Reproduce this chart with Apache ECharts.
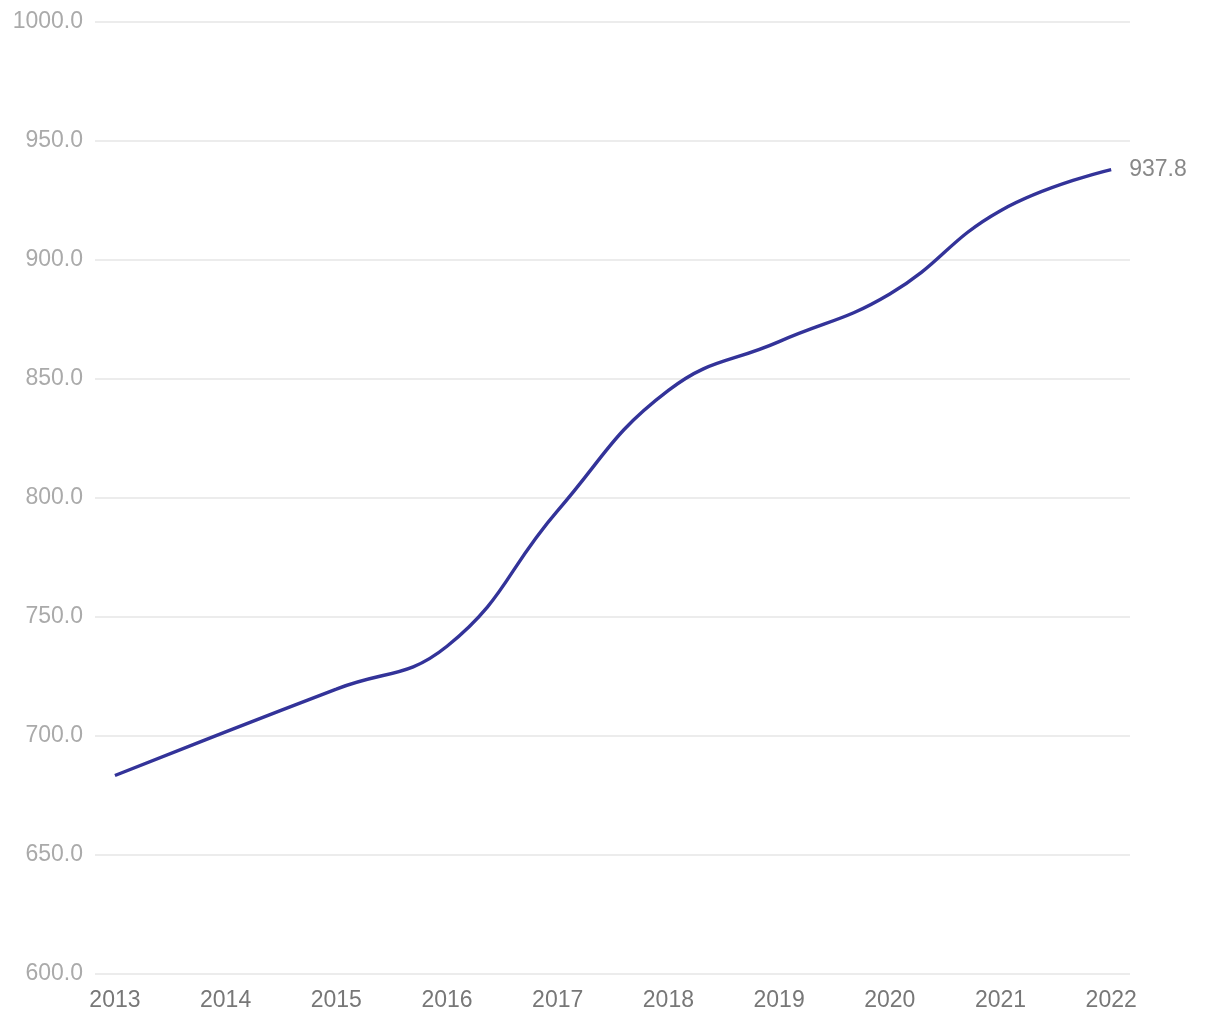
<!DOCTYPE html>
<html>
<head>
<meta charset="utf-8">
<script src="https://cdn.jsdelivr.net/npm/echarts@6/dist/echarts.min.js"></script>
<style>html,body{margin:0;padding:0;background:#fff}#c{width:1220px;height:1020px}</style>
</head>
<body>
<div id="c"></div>
<script>
const years = [2013, 2014, 2015, 2016, 2017, 2018, 2019, 2020, 2021, 2022];
const values = [683.2, 701.5, 719.5, 737.5, 794.5, 845.0, 865.5, 885.5, 920.5, 937.8];
const yTicks = [600, 650, 700, 750, 800, 850, 900, 950, 1000];

const chart = echarts.init(document.getElementById('c'));
chart.setOption({
  animation: false,
  grid: { left: 95, right: 90, top: 21.5, bottom: 46.5, containLabel: false },
  xAxis: {
    type: 'value',
    min: 2012.82,
    max: 2022.17,
    axisLine: { show: false },
    axisTick: { show: false },
    splitLine: { show: false },
    axisLabel: {
      customValues: years,
      color: '#777',
      fontSize: 23,
      fontFamily: 'Liberation Sans, Arial, sans-serif',
      margin: 16,
      formatter: v => String(Math.round(v))
    }
  },
  yAxis: {
    type: 'value',
    min: yTicks[0],
    max: yTicks[yTicks.length - 1],
    interval: 50,
    axisLine: { show: false },
    axisTick: { show: false },
    splitLine: { lineStyle: { color: '#e6e6e6', width: 1.5 } },
    axisLabel: {
      color: '#aaa',
      fontSize: 23,
      fontFamily: 'Liberation Sans, Arial, sans-serif',
      margin: 12,
      formatter: v => v.toFixed(1)
    }
  },
  series: [{
    type: 'line',
    data: years.map((y, i) => [y, values[i]]),
    smooth: 0.45,
    showSymbol: false,
    lineStyle: { color: '#333399', width: 3.4 },
    endLabel: {
      show: true,
      distance: 18,
      color: '#888',
      fontSize: 23,
      fontFamily: 'Liberation Sans, Arial, sans-serif',
      formatter: p => p.value[1].toFixed(1)
    }
  }]
});
</script>
</body>
</html>
